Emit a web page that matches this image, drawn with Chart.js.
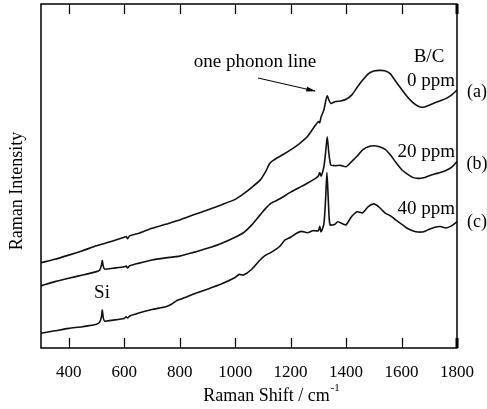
<!DOCTYPE html>
<html>
<head>
<meta charset="utf-8">
<script src="https://cdn.jsdelivr.net/npm/chart.js@4.4.0/dist/chart.umd.min.js"></script>
<style>
  html, body { margin: 0; padding: 0; background: #fff; }
  #wrap { width: 487px; height: 409px; }
</style>
</head>
<body>
<div id="wrap"><canvas id="myChart" width="487" height="409"></canvas></div>
<script>
// Raman shift (cm-1) and intensity (arbitrary units)
const shiftA = [300,350,400,450,500,550,600,607,612,620,650,700,750,800,850,900,950,1000,1030,1060,1090,1110,1125,1140,1170,1200,1230,1260,1290,1300,1305,1310,1320,1326,1332,1338,1345,1360,1380,1400,1420,1440,1460,1480,1500,1520,1540,1560,1580,1600,1620,1640,1660,1680,1700,1720,1740,1760,1780,1800];
const intensityA = [24.8,25.8,27.0,28.3,29.7,30.9,32.2,32.4,31.8,32.6,33.3,34.8,36.0,37.2,38.7,40.1,41.6,43.2,44.8,46.7,48.8,51.3,53.7,54.7,56.1,57.6,59.3,61.4,64.8,65.8,65.5,67.2,69.2,71.6,73.3,72.1,71.1,71.6,71.8,72.3,73.5,75.8,77.9,79.7,80.5,80.7,80.6,79.7,77.4,75.2,73.1,71.4,70.3,70.0,70.6,71.3,71.9,72.5,73.5,75.0];

const shiftB = [300,350,400,450,500,512,518,521,525,530,560,600,607,612,620,650,700,750,800,850,900,950,1000,1030,1060,1090,1110,1130,1160,1200,1230,1260,1290,1300,1305,1310,1320,1326,1332,1338,1345,1360,1380,1400,1420,1440,1460,1480,1500,1520,1540,1560,1580,1600,1620,1640,1660,1680,1700,1720,1740,1760,1780,1800];
const intensityB = [18.1,19.3,20.3,21.2,22.2,22.7,24.1,25.4,23.6,22.9,23.2,23.6,23.8,23.3,23.9,24.6,25.6,26.2,26.7,27.8,29.0,30.4,32.2,33.5,35.8,38.7,40.6,42.1,43.3,45.3,46.6,47.9,49.3,50.0,51.0,50.0,52.7,56.6,61.4,56.6,53.2,53.0,53.1,52.7,54.2,55.8,57.6,58.5,58.8,58.5,57.8,56.1,53.9,51.9,50.6,49.6,49.3,49.5,50.1,50.6,51.0,51.6,52.5,54.2];

const shiftC = [300,350,400,450,500,512,518,521,525,530,560,600,607,612,620,650,700,750,772,790,820,850,900,950,1000,1015,1030,1060,1090,1110,1130,1160,1180,1200,1220,1240,1260,1280,1300,1305,1310,1320,1326,1331,1336,1342,1360,1370,1390,1400,1420,1440,1460,1480,1500,1520,1540,1560,1580,1600,1620,1640,1660,1680,1700,1720,1740,1760,1780,1800];
const intensityC = [4.3,5.0,5.7,6.2,6.9,7.6,9.1,11.0,8.6,7.8,8.1,8.6,9.1,8.7,9.3,10.1,11.2,12.0,12.8,13.8,14.7,15.7,17.1,18.6,20.5,21.4,21.2,22.9,25.6,27.0,27.8,29.5,31.4,32.2,33.3,33.9,33.5,34.1,34.1,35.3,33.8,36.0,43.0,51.0,43.0,35.8,36.0,36.7,36.0,35.8,38.2,39.6,39.3,41.1,41.9,40.9,39.3,38.4,37.2,36.0,34.8,34.1,33.7,33.8,34.5,35.1,35.3,34.9,35.5,36.7];

const tickValues = [400,600,800,1000,1200,1400,1600,1800];
const seriesLabels = ["0 ppm", "20 ppm", "40 ppm"];
const seriesTags = ["(a)", "(b)", "(c)"];

const serif = "'Liberation Serif', 'DejaVu Serif', serif";

function toPoints(xs, ys) {
  return xs.map((x, i) => ({ x: x, y: ys[i] }));
}

function makeDataset(label, xs, ys) {
  return {
    label: label,
    data: toPoints(xs, ys),
    borderColor: "#111",
    borderWidth: 1.6,
    pointRadius: 0,
    tension: 0.2,
    fill: false
  };
}

// frame, inward ticks and all the text round the plot
const decorations = {
  id: "decorations",
  afterDraw(chart) {
    const c = chart.ctx;
    const area = chart.chartArea;
    const xs = chart.scales.x;
    c.save();
    c.strokeStyle = "#000";
    c.lineWidth = 1.5;
    c.strokeRect(area.left, area.top, area.right - area.left, area.bottom - area.top);
    c.lineWidth = 1.2;
    tickValues.forEach(v => {
      const px = Math.round(xs.getPixelForValue(v)) + 0.5;
      c.beginPath();
      c.moveTo(px, area.bottom);
      c.lineTo(px, area.bottom - 10);
      c.moveTo(px, area.top);
      c.lineTo(px, area.top + 10);
      c.stroke();
    });
    // thicker right edge at the ends
    c.lineWidth = 3;
    c.beginPath();
    c.moveTo(area.right, area.bottom - 10);
    c.lineTo(area.right, area.bottom);
    c.moveTo(area.right, area.top);
    c.lineTo(area.right, area.top + 10);
    c.stroke();

    c.fillStyle = "#000";
    c.textBaseline = "middle";

    // x axis title with superscript
    c.font = "18px " + serif;
    c.textAlign = "left";
    const main = "Raman Shift / cm";
    const w = c.measureText(main).width;
    c.font = "11px " + serif;
    const sw = c.measureText("-1").width;
    const x0 = 271 - (w + sw) / 2;
    c.font = "18px " + serif;
    c.fillText(main, x0, 396);
    c.font = "11px " + serif;
    c.fillText("-1", x0 + w + 1, 388);

    // y axis title
    c.save();
    c.translate(17, 191);
    c.rotate(-Math.PI / 2);
    c.font = "18px " + serif;
    c.textAlign = "center";
    c.fillText("Raman Intensity", 0, 0);
    c.restore();

    c.font = "19px " + serif;
    c.textAlign = "center";
    c.fillText("one phonon line", 255, 62);
    c.fillText("B/C", 429, 57);
    c.fillText("Si", 102, 293);

    c.textAlign = "right";
    c.fillText(seriesLabels[0], 455, 81);
    c.fillText(seriesLabels[1], 455, 152);
    c.fillText(seriesLabels[2], 455, 209);
    c.font = "18px " + serif;
    c.textAlign = "center";
    c.fillText(seriesTags[0], 477, 92);
    c.fillText(seriesTags[1], 477, 164);
    c.fillText(seriesTags[2], 477, 222);

    // arrow to the one phonon line
    c.lineWidth = 1;
    c.beginPath();
    c.moveTo(258, 78);
    c.lineTo(315, 91);
    c.stroke();
    const ang = Math.atan2(91 - 78, 315 - 258);
    c.beginPath();
    c.moveTo(316, 91.2);
    c.lineTo(316 - 10 * Math.cos(ang - 0.25), 91.2 - 10 * Math.sin(ang - 0.25));
    c.lineTo(316 - 10 * Math.cos(ang + 0.25), 91.2 - 10 * Math.sin(ang + 0.25));
    c.closePath();
    c.fill();
    c.restore();
  }
};

const ctx = document.getElementById("myChart").getContext("2d");

const myChart = new Chart(ctx, {
  type: "line",
  data: {
    datasets: [
      makeDataset(seriesLabels[0], shiftA, intensityA),
      makeDataset(seriesLabels[1], shiftB, intensityB),
      makeDataset(seriesLabels[2], shiftC, intensityC)
    ]
  },
  options: {
    responsive: false,
    animation: false,
    layout: { padding: { top: 4, right: 30, left: 0, bottom: 0 } },
    plugins: {
      legend: { display: false },
      tooltip: { enabled: false }
    },
    scales: {
      x: {
        type: "linear",
        min: 300,
        max: 1800,
        grid: { display: false },
        border: { display: false },
        afterBuildTicks: scale => {
          scale.ticks = tickValues.map(v => ({ value: v }));
        },
        afterFit: scale => { scale.height = 61; },
        ticks: {
          color: "#000",
          padding: 6,
          maxRotation: 0,
          autoSkip: false,
          font: { family: serif, size: 17 },
          callback: v => String(v)
        }
      },
      y: {
        min: 0,
        max: 100,
        grid: { display: false },
        border: { display: false },
        ticks: { display: false },
        afterFit: scale => { scale.width = 41; }
      }
    }
  },
  plugins: [decorations]
});
</script>
</body>
</html>
